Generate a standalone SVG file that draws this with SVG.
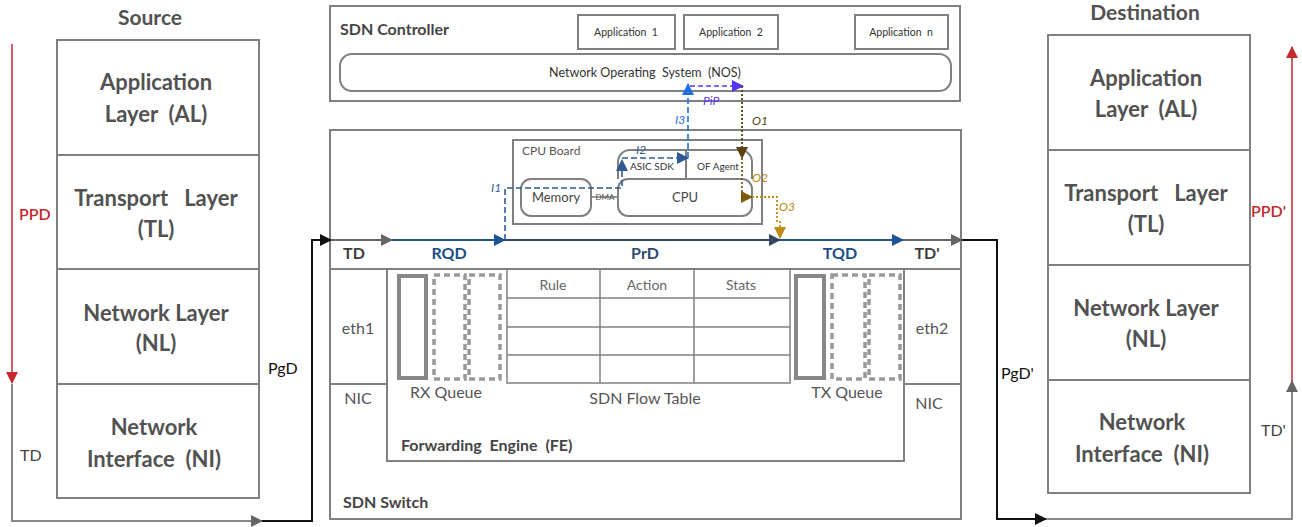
<svg xmlns="http://www.w3.org/2000/svg" width="1302" height="527" viewBox="0 0 1302 527">
<defs>
<style>
text{font-family:Lato,"Liberation Sans",sans-serif;fill:#454545;white-space:pre}
.box{fill:none;stroke:#808080;stroke-width:2}
.thin{fill:none;stroke:#808080;stroke-width:1.5}
.layer{font-size:22px;font-weight:700;text-anchor:middle;fill:#525252}
.title{font-size:21px;font-weight:700;text-anchor:middle;fill:#525252}
.hdr{font-size:16px;font-weight:700;text-anchor:middle}
.bold{font-size:16px;font-weight:700}
.sm{font-size:10.5px;text-anchor:middle;fill:#333}
.mid{font-size:16px;text-anchor:middle;fill:#555}
.cell{font-size:14px;text-anchor:middle;fill:#666}
.lbl{font-size:12px;font-style:italic}
</style>
<marker id="aBlack" markerUnits="userSpaceOnUse" markerWidth="12" markerHeight="12" refX="11" refY="6" orient="auto"><path d="M0,0L12,6L0,12z" fill="#111"/></marker>
<marker id="aGray" markerUnits="userSpaceOnUse" markerWidth="12" markerHeight="12" refX="11" refY="6" orient="auto"><path d="M0,0L12,6L0,12z" fill="#666"/></marker>
<marker id="aRed" markerUnits="userSpaceOnUse" markerWidth="12" markerHeight="12" refX="11" refY="6" orient="auto"><path d="M0,0L12,6L0,12z" fill="#c5282d"/></marker>
<marker id="aBlue" markerUnits="userSpaceOnUse" markerWidth="12" markerHeight="12" refX="11" refY="6" orient="auto"><path d="M0,0L12,6L0,12z" fill="#1c5394"/></marker>
<marker id="aDark" markerUnits="userSpaceOnUse" markerWidth="12" markerHeight="12" refX="11" refY="6" orient="auto"><path d="M0,0L12,6L0,12z" fill="#34465e"/></marker>
<marker id="aI" markerUnits="userSpaceOnUse" markerWidth="12" markerHeight="12" refX="11" refY="6" orient="auto"><path d="M0,0L12,6L0,12z" fill="#2f5a94"/></marker>
<marker id="aI3" markerUnits="userSpaceOnUse" markerWidth="12" markerHeight="12" refX="11" refY="6" orient="auto"><path d="M0,0L12,6L0,12z" fill="#1f6fe6"/></marker>
<marker id="aPiP" markerUnits="userSpaceOnUse" markerWidth="12" markerHeight="12" refX="11" refY="6" orient="auto"><path d="M0,0L12,6L0,12z" fill="#5a35ee"/></marker>
<marker id="aO1" markerUnits="userSpaceOnUse" markerWidth="12" markerHeight="12" refX="11" refY="6" orient="auto"><path d="M0,0L12,6L0,12z" fill="#5a3f12"/></marker>
<marker id="aO2" markerUnits="userSpaceOnUse" markerWidth="12" markerHeight="12" refX="11" refY="6" orient="auto"><path d="M0,0L12,6L0,12z" fill="#7d5a10"/></marker>
<marker id="aO3" markerUnits="userSpaceOnUse" markerWidth="12" markerHeight="12" refX="11" refY="6" orient="auto"><path d="M0,0L12,6L0,12z" fill="#c08c14"/></marker>
</defs>
<rect width="1302" height="527" fill="#fff"/>

<g id="source">
<text class="title" x="150" y="25">Source</text>
<rect class="box" x="57" y="40" width="202" height="458"/>
<line class="box" x1="57" y1="155" x2="259" y2="155"/>
<line class="box" x1="57" y1="269" x2="259" y2="269"/>
<line class="box" x1="57" y1="384" x2="259" y2="384"/>
<text class="layer" x="156" y="90">Application</text>
<text class="layer" x="156" y="122">Layer  (AL)</text>
<text class="layer" x="156" y="206">Transport   Layer</text>
<text class="layer" x="156" y="237">(TL)</text>
<text class="layer" x="156" y="321">Network Layer</text>
<text class="layer" x="156" y="351">(NL)</text>
<text class="layer" x="154" y="435">Network</text>
<text class="layer" x="154" y="467">Interface  (NI)</text>
</g>

<g id="destination">
<text class="title" x="1145" y="20">Destination</text>
<rect class="box" x="1048" y="35" width="202" height="458"/>
<line class="box" x1="1048" y1="150" x2="1250" y2="150"/>
<line class="box" x1="1048" y1="265" x2="1250" y2="265"/>
<line class="box" x1="1048" y1="380" x2="1250" y2="380"/>
<text class="layer" x="1146" y="86">Application</text>
<text class="layer" x="1146" y="117">Layer  (AL)</text>
<text class="layer" x="1146" y="201">Transport   Layer</text>
<text class="layer" x="1146" y="232">(TL)</text>
<text class="layer" x="1146" y="316">Network Layer</text>
<text class="layer" x="1146" y="347">(NL)</text>
<text class="layer" x="1142" y="430">Network</text>
<text class="layer" x="1142" y="462">Interface  (NI)</text>
</g>

<g id="controller">
<rect class="box" x="330" y="6" width="630" height="95"/>
<text class="bold" x="340" y="35">SDN Controller</text>
<rect class="box" x="578" y="15" width="97" height="34"/>
<text class="sm" x="626" y="36">Application  1</text>
<rect class="box" x="684" y="15" width="94" height="34"/>
<text class="sm" x="731" y="36">Application  2</text>
<rect class="box" x="855" y="15" width="93" height="34"/>
<text class="sm" x="901" y="36">Application  n</text>
<rect class="box" x="340" y="54" width="611" height="37" rx="12"/>
<text class="sm" x="645" y="77" style="font-size:12.5px">Network Operating  System  (NOS)</text>
</g>

<g id="switch">
<rect class="box" x="330" y="130" width="631" height="389"/>
<line class="box" x1="330" y1="269" x2="961" y2="269"/>
<text class="bold" x="343" y="508">SDN Switch</text>
<line class="box" x1="330" y1="384" x2="387" y2="384"/>
<line class="box" x1="904" y1="384" x2="961" y2="384"/>
<text class="mid" x="358" y="334">eth1</text>
<text class="mid" x="358" y="404">NIC</text>
<text class="mid" x="932" y="334">eth2</text>
<text class="mid" x="929" y="409">NIC</text>
<text class="hdr" x="354" y="259" style="fill:#3d3d3d">TD</text>
<text class="hdr" x="449" y="259" style="fill:#1c4e86">RQD</text>
<text class="hdr" x="645" y="259" style="fill:#2e4a6e">PrD</text>
<text class="hdr" x="840" y="259" style="fill:#1c4e86">TQD</text>
<text class="hdr" x="927" y="259" style="fill:#3d3d3d">TD'</text>
</g>

<g id="fe">
<rect class="box" x="387" y="269" width="517" height="192"/>
<text class="bold" x="401" y="451">Forwarding  Engine  (FE)</text>
</g>

<g id="rxqueue">
<rect x="399" y="276" width="27" height="102" fill="none" stroke="#888" stroke-width="4"/>
<rect x="434" y="275" width="31" height="104" fill="none" stroke="#999" stroke-width="3.5" stroke-dasharray="6,4"/>
<rect x="469" y="275" width="31" height="104" fill="none" stroke="#999" stroke-width="3.5" stroke-dasharray="6,4"/>
<text class="mid" x="446" y="398">RX Queue</text>
</g>

<g id="flowtable">
<rect class="thin" x="507" y="269" width="283" height="114"/>
<line class="thin" x1="600" y1="269" x2="600" y2="383"/>
<line class="thin" x1="694" y1="269" x2="694" y2="383"/>
<line class="thin" x1="507" y1="298" x2="790" y2="298"/>
<line class="thin" x1="507" y1="327" x2="790" y2="327"/>
<line class="thin" x1="507" y1="355" x2="790" y2="355"/>
<text class="cell" x="553" y="290">Rule</text>
<text class="cell" x="647" y="290">Action</text>
<text class="cell" x="741" y="290">Stats</text>
<text class="mid" x="645" y="404">SDN Flow Table</text>
</g>

<g id="txqueue">
<rect x="796" y="276" width="28" height="102" fill="none" stroke="#888" stroke-width="4"/>
<rect x="832" y="275" width="33" height="104" fill="none" stroke="#999" stroke-width="3.5" stroke-dasharray="6,4"/>
<rect x="869" y="275" width="31" height="104" fill="none" stroke="#999" stroke-width="3.5" stroke-dasharray="6,4"/>
<text class="mid" x="847" y="398">TX Queue</text>
</g>

<g id="cpuboard">
<rect class="box" x="513" y="140" width="249" height="84"/>
<text x="522" y="155" style="font-size:12px;fill:#555">CPU Board</text>
<rect class="box" x="521" y="179" width="70" height="37" rx="10"/>
<text x="556" y="202" style="font-size:13px;text-anchor:middle;fill:#444">Memory</text>
<line x1="591" y1="197" x2="618" y2="197" stroke="#777" stroke-width="1.5"/>
<text x="605" y="200" style="font-size:8px;text-anchor:middle;fill:#555">DMA</text>
<path class="box" d="M618,179 V162 a12,12 0 0 1 12,-12 H686 V179"/>
<text x="652" y="170" style="font-size:10px;text-anchor:middle;fill:#333">ASIC SDK</text>
<path class="box" d="M686,150 H740 a12,12 0 0 1 12,12 V179"/>
<text x="718" y="170" style="font-size:10px;text-anchor:middle;fill:#333">OF Agent</text>
<rect class="box" x="618" y="179" width="134" height="37" rx="10"/>
<text x="685" y="202" style="font-size:13px;text-anchor:middle;fill:#444">CPU</text>
</g>

<g id="connectors" fill="none">
<path d="M12,44 V383" stroke="#c5282d" stroke-width="1.5" marker-end="url(#aRed)"/>
<path d="M12,384 V521 H262" stroke="#888" stroke-width="2" marker-end="url(#aGray)"/>
<path d="M262,521 H312 V240 H331" stroke="#111" stroke-width="2" marker-end="url(#aBlack)"/>
<path d="M331,240 H392" stroke="#666" stroke-width="2" marker-end="url(#aGray)"/>
<path d="M392,240 H505" stroke="#1c5394" stroke-width="2" marker-end="url(#aBlue)"/>
<path d="M505,240 H780" stroke="#34465e" stroke-width="2" marker-end="url(#aDark)"/>
<path d="M780,240 H903" stroke="#1c5394" stroke-width="2" marker-end="url(#aBlue)"/>
<path d="M903,240 H962" stroke="#666" stroke-width="2" marker-end="url(#aGray)"/>
<path d="M962,240 H997 V519 H1046" stroke="#111" stroke-width="2" marker-end="url(#aBlack)"/>
<path d="M1046,519 H1292 V381" stroke="#888" stroke-width="2" marker-end="url(#aGray)"/>
<path d="M1292,381 V47" stroke="#c5282d" stroke-width="1.5" marker-end="url(#aRed)"/>

<path d="M505,240 V188 H622 V160" stroke="#2f5a94" stroke-width="1.6" stroke-dasharray="6,3" marker-end="url(#aI)"/>
<path d="M622,158 H688" stroke="#2f5a94" stroke-width="1.6" stroke-dasharray="6,3" marker-end="url(#aI)"/>
<path d="M688,158 V84" stroke="#1f6fe6" stroke-width="1.6" stroke-dasharray="6,3" marker-end="url(#aI3)"/>
<path d="M690,86 H743" stroke="#5a35ee" stroke-width="1.6" stroke-dasharray="5,3" marker-end="url(#aPiP)"/>
<path d="M742,86 V158" stroke="#5a3f12" stroke-width="1.8" stroke-dasharray="2,2" marker-end="url(#aO1)"/>
<path d="M742,158 V197 H752" stroke="#7d5a10" stroke-width="1.8" stroke-dasharray="2,2" marker-end="url(#aO2)"/>
<path d="M752,197 H777 V222 H780 V238" stroke="#c08c14" stroke-width="1.8" stroke-dasharray="2,2" marker-end="url(#aO3)"/>
</g>

<g id="labels">
<text x="19" y="220" style="font-size:16px;font-weight:600;fill:#c5282d">PPD</text>
<text x="20" y="461" style="font-size:16px;fill:#444">TD</text>
<text x="268" y="374" style="font-size:16px;fill:#111">PgD</text>
<text x="1001" y="379" style="font-size:16px;fill:#111">PgD'</text>
<text x="1251" y="217" style="font-size:16px;font-weight:600;fill:#c5282d">PPD'</text>
<text x="1261" y="436" style="font-size:16px;fill:#444">TD'</text>
<text class="lbl" x="491" y="192" style="fill:#2f5a94">I1</text>
<text class="lbl" x="636" y="154" style="fill:#2f5a94">I2</text>
<text class="lbl" x="675" y="124" style="fill:#1f6fe6">I3</text>
<text class="lbl" x="703" y="105" style="fill:#5a35ee">PiP</text>
<text class="lbl" x="752" y="125" style="fill:#5a3f12">O1</text>
<text class="lbl" x="752" y="182" style="fill:#b8860b">O2</text>
<text class="lbl" x="779" y="211" style="fill:#b8860b">O3</text>
</g>
</svg>
